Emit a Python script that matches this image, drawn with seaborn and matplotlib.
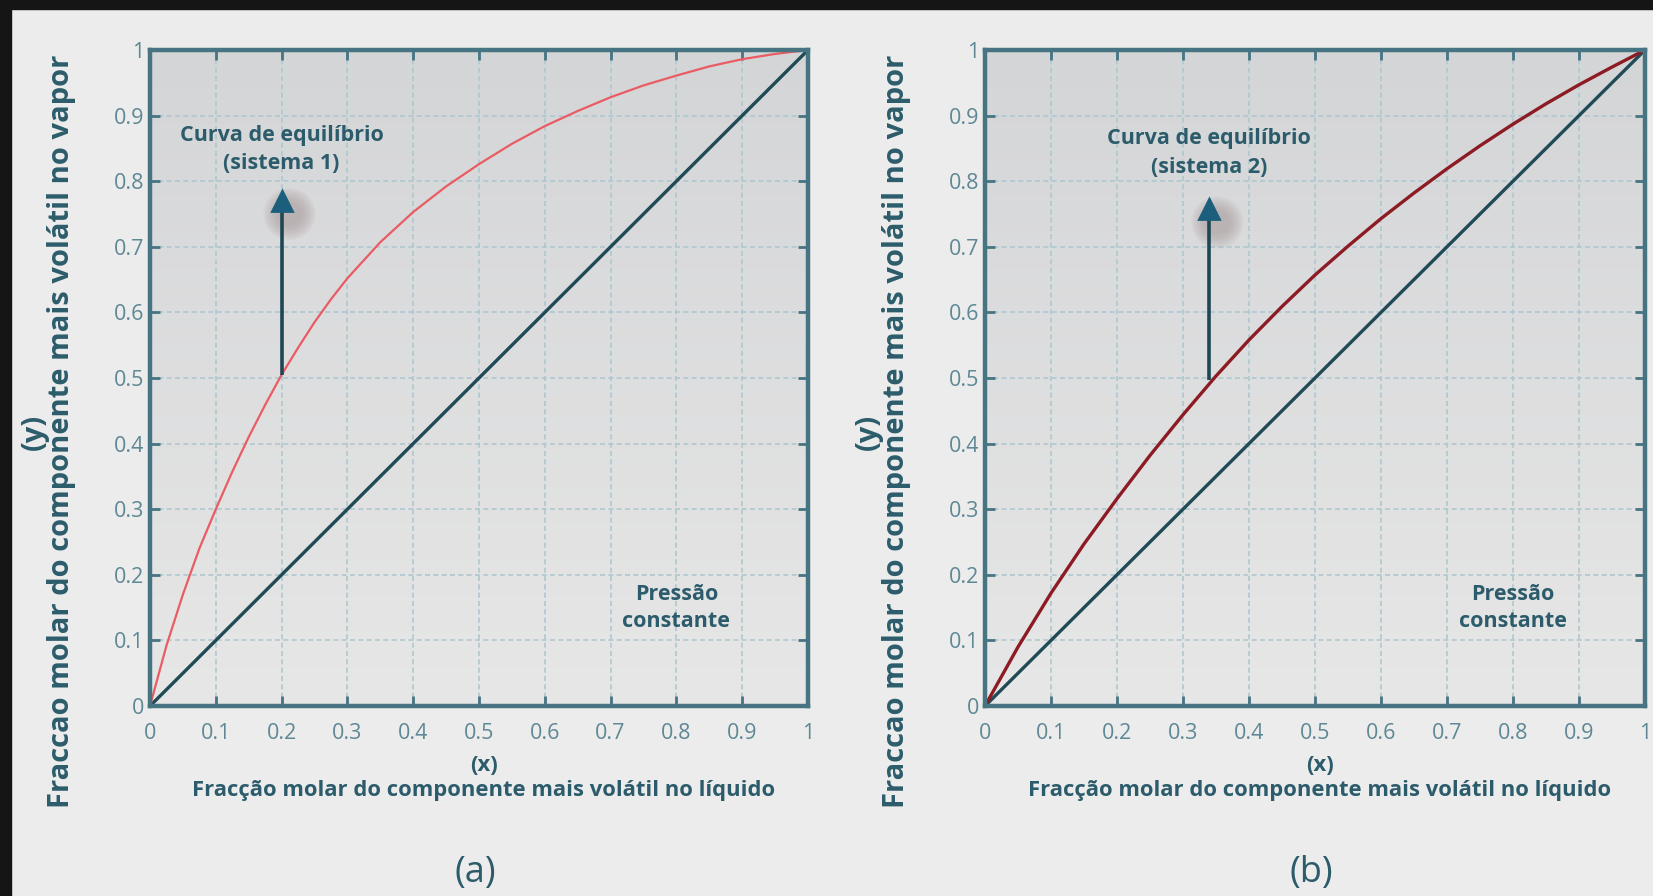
import numpy as np
import pandas as pd
import matplotlib
matplotlib.use('Agg')
import matplotlib.pyplot as plt
import seaborn as sns
from matplotlib.patches import Rectangle

# ── data ─────────────────────────────────────────────────────────────────────
x_eq1 = [0, 0.025, 0.05, 0.075, 0.1, 0.125, 0.15, 0.175, 0.2, 0.225, 0.25,
         0.275, 0.3, 0.35, 0.4, 0.45, 0.5, 0.55, 0.6, 0.65, 0.7, 0.75, 0.8,
         0.85, 0.9, 0.95, 1.0]
y_eq1 = [0, 0.092, 0.17, 0.24, 0.30, 0.357, 0.41, 0.459, 0.505, 0.546, 0.585,
         0.62, 0.652, 0.707, 0.753, 0.792, 0.826, 0.857, 0.884, 0.907, 0.928,
         0.946, 0.961, 0.975, 0.986, 0.994, 1.0]

x_eq2 = [0, 0.05, 0.1, 0.15, 0.2, 0.25, 0.3, 0.35, 0.4, 0.45, 0.5, 0.55, 0.6,
         0.65, 0.7, 0.75, 0.8, 0.85, 0.9, 0.95, 1.0]
y_eq2 = [0, 0.09, 0.172, 0.247, 0.316, 0.382, 0.444, 0.503, 0.558, 0.609,
         0.657, 0.701, 0.743, 0.782, 0.819, 0.854, 0.887, 0.918, 0.947, 0.974,
         1.0]

x_diag = [0, 1]
y_diag = [0, 1]

ticks = [0, 0.1, 0.2, 0.3, 0.4, 0.5, 0.6, 0.7, 0.8, 0.9, 1.0]
tick_labels = ['0', '0.1', '0.2', '0.3', '0.4', '0.5', '0.6', '0.7', '0.8', '0.9', '1']

# arrow: x, base y, head y
arrow1 = (0.2, 0.505, 0.765)
arrow2 = (0.34, 0.497, 0.752)

panels = [
    dict(x=x_eq1, y=y_eq1, color='#e95c63', lw=1.6, arrow=arrow1,
         label='Curva de equilíbrio\n(sistema 1)', label_xy=(0.2, 0.848),
         tag='(a)'),
    dict(x=x_eq2, y=y_eq2, color='#8c1b23', lw=2.4, arrow=arrow2,
         label='Curva de equilíbrio\n(sistema 2)', label_xy=(0.34, 0.843),
         tag='(b)'),
]

# ── style ────────────────────────────────────────────────────────────────────
sns.set_theme(style='white')
plt.rcParams['font.family'] = ['Open Sans', 'DejaVu Sans']

teal = '#2c5c6b'
spine = '#467482'
tick_col = '#5d8894'
grid_col = '#afc7cf'

W, H = 1653, 896
fig = plt.figure(figsize=(W / 100, H / 100), dpi=100, facecolor='#ececec')

# dark frame strips at the top and left of the screenshot
fig.patches.append(Rectangle((0, 1 - 9 / H), 1, 9 / H, transform=fig.transFigure,
                             color='#151515', zorder=0))
fig.patches.append(Rectangle((0, 0), 11 / W, 1, transform=fig.transFigure,
                             color='#151515', zorder=0))

axes_px = [(150, 50, 658, 656), (985, 50, 660, 656)]
grad = np.linspace(0, 1, 256).reshape(-1, 1)
bg_cmap = matplotlib.colors.LinearSegmentedColormap.from_list(
    'bg', ['#d4d5d7', '#e7e7e7'])

for (l, t, w, h), p in zip(axes_px, panels):
    ax = fig.add_axes([l / W, 1 - (t + h) / H, w / W, h / H])

    # gray gradient background
    ax.imshow(grad, extent=[0, 1, 0, 1], aspect='auto', origin='upper',
              cmap=bg_cmap, zorder=0)

    ax.set_xlim(0, 1)
    ax.set_ylim(0, 1)
    ax.set_xticks(ticks)
    ax.set_yticks(ticks)
    ax.set_xticklabels(tick_labels)
    ax.set_yticklabels(tick_labels)
    ax.grid(True, color=grid_col, lw=1.2, ls=(0, (3, 2)), zorder=1)
    ax.tick_params(direction='in', length=7, width=2, color=spine,
                   top=True, right=True, left=True, bottom=True,
                   labelsize=15.5, labelcolor=tick_col)
    ax.tick_params(axis='x', pad=12)
    ax.tick_params(axis='y', pad=4)
    for s in ax.spines.values():
        s.set_color(spine)
        s.set_linewidth(3.2)
        s.set_zorder(5)

    sns.lineplot(x=x_diag, y=y_diag, ax=ax, color='#1f4a56', lw=2.4,
                 zorder=3, estimator=None, sort=False)
    sns.lineplot(x=p['x'], y=p['y'], ax=ax, color=p['color'], lw=p['lw'],
                 zorder=4, estimator=None, sort=False)

    # arrow with soft shadow
    ax_x, y0, y1 = p['arrow']
    for k in range(8):
        ax.scatter([ax_x + 0.012], [y1 - 0.015], s=300 + 160 * k, color='#6a4a4a',
                   alpha=0.035, edgecolors='none', zorder=2)
    ax.plot([ax_x, ax_x], [y0, y1], color='#1f4753', lw=2.6, zorder=4,
            solid_capstyle='butt')
    ax.plot([ax_x], [y1 + 0.005], marker='^', ms=15, color='#1c5f7d',
            mec='#1c5f7d', mew=2, zorder=6, solid_joinstyle='round')

    ax.text(p['label_xy'][0], p['label_xy'][1], p['label'], ha='center',
            va='center', fontsize=15.5, fontweight='bold', color=teal,
            linespacing=1.45, zorder=6)
    ax.text(0.8, 0.149, 'Pressão\nconstante', ha='center', va='center',
            fontsize=15.5, fontweight='bold', color=teal, linespacing=1.4,
            zorder=6)

    ax.set_ylabel('(y)\nFraccao molar do componente mais volátil no vapor',
                  fontsize=21, fontweight='bold', color=teal, linespacing=0.95)
    ax.yaxis.set_label_coords(-0.112, 0.418)
    ax.set_xlabel('(x)\nFracção molar do componente mais volátil no líquido',
                  fontsize=15.8, fontweight='bold', color=teal, linespacing=1.25)
    ax.xaxis.set_label_coords(0.507, -0.074)
    ax.xaxis.label.set_va('top')

    fig.text((l + w / 2) / W - 0.002, 1 - 873 / H, p['tag'], ha='center',
             va='center', fontsize=26, color=teal)

fig.savefig('out.png', dpi=100, facecolor=fig.get_facecolor())
